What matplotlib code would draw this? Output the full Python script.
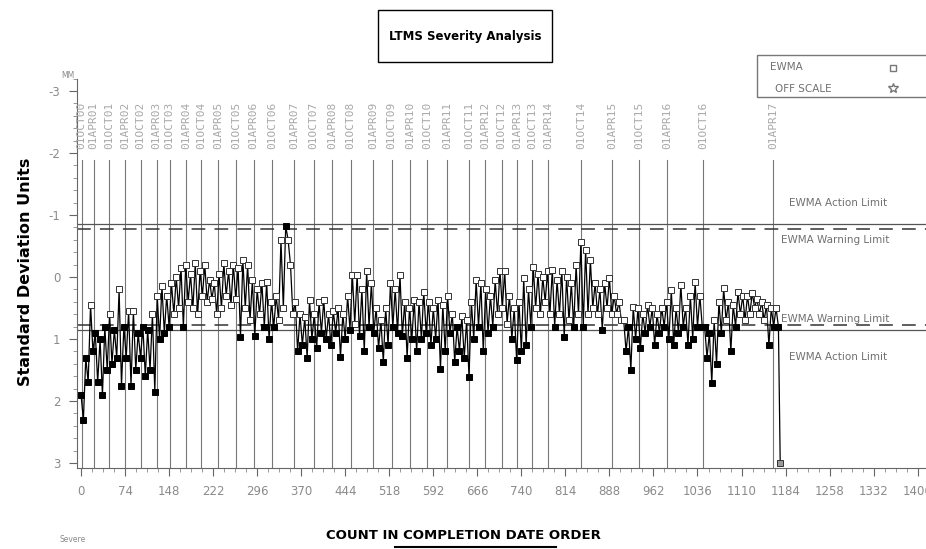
import matplotlib
matplotlib.use("Agg")
import matplotlib.pyplot as plt
from matplotlib.patches import Rectangle
from matplotlib.lines import Line2D
import numpy as np

NARROW = ['Liberation Sans Narrow', 'DejaVu Sans']
GREY = '#8a8a8a'

# EWMA values, one upper / lower pair per 8 tests
ewma_hi = [1.9, 1.3, 0.45, 0.9, 1.0, 0.8, 0.6, 0.85, 0.2, 0.8,
           0.55, 0.55, 0.9, 0.8, 0.85, 0.6, 0.3, 0.15, 0.3, 0.1,
           0.0, -0.15, -0.2, -0.05, -0.22, -0.1, -0.2, 0.05, 0.1, -0.05,
           -0.22, -0.1, -0.2, -0.15, -0.27, -0.2, 0.05, 0.2, 0.1, 0.08,
           0.4, 0.3, -0.6, -0.82, -0.2, 0.4, 0.6, 0.65, 0.37, 0.6,
           0.4, 0.37, 0.6, 0.55, 0.5, 0.6, 0.3, -0.04, -0.04, 0.2,
           -0.1, 0.1, 0.5, 0.7, 0.5, 0.1, 0.2, -0.04, 0.4, 0.5,
           0.37, 0.4, 0.24, 0.4, 0.5, 0.37, 0.45, 0.3, 0.6, 0.8,
           0.63, 0.7, 0.4, 0.05, 0.1, 0.2, 0.3, 0.05, -0.1, -0.1,
           0.3, 0.5, 0.4, 0.02, 0.2, -0.17, -0.05, 0.0, -0.1, -0.12,
           0.05, -0.1, 0.0, 0.1, -0.2, -0.57, -0.44, -0.27, 0.1, 0.2,
           0.1, 0.02, 0.3, 0.4, 0.7, 0.8, 0.48, 0.5, 0.6, 0.45,
           0.5, 0.6, 0.5, 0.4, 0.21, 0.5, 0.12, 0.5, 0.3, 0.08,
           0.3, 0.8, 0.9, 0.7, 0.4, 0.18, 0.4, 0.45, 0.24, 0.3,
           0.3, 0.25, 0.35, 0.4, 0.45, 0.5, 0.5]
ewma_lo = [2.3, 1.7, 1.2, 1.7, 1.9, 1.5, 1.4, 1.3, 1.75, 1.3,
           1.75, 1.5, 1.3, 1.6, 1.5, 1.85, 1.0, 0.9, 0.8, 0.6,
           0.5, 0.8, 0.4, 0.5, 0.6, 0.3, 0.4, 0.35, 0.6, 0.5,
           0.3, 0.45, 0.35, 0.96, 0.5, 0.7, 0.95, 0.6, 0.8, 1.0,
           0.8, 0.7, 0.5, -0.6, 0.6, 1.2, 1.1, 1.3, 1.0, 1.15,
           0.9, 1.0, 1.1, 0.9, 1.29, 1.0, 0.85, 0.75, 0.95, 1.2,
           0.8, 0.9, 1.15, 1.37, 1.1, 0.8, 0.9, 0.95, 1.3, 1.0,
           1.2, 1.0, 0.9, 1.1, 1.0, 1.49, 1.2, 0.9, 1.37, 1.2,
           1.3, 1.61, 1.0, 0.8, 1.2, 0.9, 0.8, 0.6, 0.5, 0.75,
           1.0, 1.34, 1.2, 1.1, 0.8, 0.5, 0.6, 0.4, 0.6, 0.8,
           0.6, 0.96, 0.7, 0.8, 0.6, 0.8, 0.6, 0.5, 0.6, 0.85,
           0.5, 0.6, 0.6, 0.7, 1.2, 1.5, 1.0, 1.15, 0.9, 0.8,
           1.1, 0.9, 0.8, 1.0, 1.1, 0.9, 0.8, 1.1, 1.0, 0.8,
           0.8, 1.3, 1.71, 1.4, 0.9, 0.7, 1.2, 0.8, 0.6, 0.7,
           0.6, 0.5, 0.6, 0.7, 1.1, 0.8, 0.8]
bin_width = 8
off_scale_x = 1175
off_scale_y = 3.0

date_labels = ['01OCT00', '01APR01', '01OCT01', '01APR02', '01OCT02', '01APR03',
               '01OCT03', '01APR04', '01OCT04', '01APR05', '01OCT05', '01APR06',
               '01OCT06', '01APR07', '01OCT07', '01APR08', '01OCT08', '01APR09',
               '01OCT09', '01APR10', '01OCT10', '01APR11', '01OCT11', '01APR12',
               '01OCT12', '01APR13', '01OCT13', '01APR14', '01OCT14', '01APR15',
               '01OCT15', '01APR16', '01OCT16', '01APR17']
date_counts = [1, 21, 47, 74, 100, 127, 149, 176, 202, 231, 261, 290, 321, 358,
               391, 422, 453, 491, 522, 553, 582, 615, 652, 679, 707, 733, 758,
               785, 840, 892, 938, 985, 1045, 1163]

action_limit = 0.86
warning_limit = 0.77
x_ticks = list(range(0, 1407, 74))

# build the series
xs, ys = [], []
for i, (h, l) in enumerate(zip(ewma_hi, ewma_lo)):
    xs += [i * bin_width, i * bin_width + bin_width / 2]
    ys += [h, l]
xs = np.array(xs)
ys = np.array(ys)

fig = plt.figure(figsize=(9.26, 5.49), dpi=100)
ax = fig.add_axes([0.083, 0.1475, 0.917, 0.716])

for c, lab in zip(date_counts, date_labels):
    ax.plot([c, c], [-1.88, 3.2], color='#777777', lw=0.8, zorder=1)
    ax.text(c, -2.06, lab, rotation=90, ha='center', va='bottom',
            fontsize=8, color='#a8a8a8', family='DejaVu Sans Mono')

ax.axhline(-action_limit, color='#555555', lw=0.9, zorder=1)
ax.axhline(action_limit, color='#555555', lw=0.9, zorder=1)
ax.axhline(-warning_limit, color='#333333', lw=1.1, ls=(0, (9, 6)), zorder=1)
ax.axhline(warning_limit, color='#333333', lw=1.1, ls=(0, (9, 6)), zorder=1)

ax.plot(np.append(xs, off_scale_x), np.append(ys, off_scale_y),
        color='black', lw=0.9, zorder=3)
beyond = np.abs(ys) > warning_limit
ax.plot(xs[~beyond], ys[~beyond], ls='none', marker='s', ms=4,
        mfc='white', mec='#333333', mew=0.7, zorder=4)
ax.plot(xs[beyond], ys[beyond], ls='none', marker='s', ms=4,
        mfc='black', mec='black', mew=0.7, zorder=4)
ax.plot([off_scale_x], [off_scale_y], ls='none', marker='s', ms=4,
        mfc='#999999', mec='#333333', mew=0.7, zorder=4)

lim_kw = dict(fontsize=7.5, color='#707070', family=NARROW)
ax.text(1190, -1.14, 'EWMA Action Limit', **lim_kw)
ax.text(1176, -0.55, 'EWMA Warning Limit', **lim_kw)
ax.text(1176, 0.72, 'EWMA Warning Limit', **lim_kw)
ax.text(1190, 1.33, 'EWMA Action Limit', **lim_kw)

ax.set_xlim(-7, 1420)
ax.set_ylim(3.08, -3.26)
ax.set_xticks(x_ticks)
ax.set_xticks(np.arange(0, 1420, 18.5), minor=True)
ax.set_yticks([-3, -2, -1, 0, 1, 2, 3])
ax.set_yticks(np.arange(-3.2, 3.1, 0.2), minor=True)
ax.set_yticklabels(['-3', '-2', '-1', '0', '1', '2', '3'])
for lab in ax.get_xticklabels() + ax.get_yticklabels():
    lab.set_family(NARROW)
    lab.set_fontsize(8.5)
    lab.set_color('#8a8a8a')
ax.tick_params(which='major', length=6, color='#666666', pad=6)
ax.tick_params(which='minor', length=3, color='#888888')
for side in ['top', 'right']:
    ax.spines[side].set_visible(False)
for side in ['left', 'bottom']:
    ax.spines[side].set_color('#666666')
ax.spines['left'].set_bounds(3.08, -3.2)

ax.set_xlabel('COUNT IN COMPLETION DATE ORDER', fontsize=9.5, fontweight='bold',
              family=NARROW)
ax.xaxis.set_label_coords(0.455, -0.155)
ax.set_ylabel('Standard Deviation Units', fontsize=11.5, fontweight='bold')
ax.yaxis.set_label_coords(-0.052, 0.5)

# title box
fig.add_artist(Rectangle((0.408, 0.887), 0.188, 0.095, transform=fig.transFigure,
                         fc='white', ec='black', lw=1))
fig.text(0.502, 0.934, 'LTMS Severity Analysis', ha='center', va='center',
         fontsize=8.5, fontweight='bold', family=NARROW)

# legend box
fig.add_artist(Rectangle((0.8175, 0.823), 0.19, 0.077, transform=fig.transFigure,
                         fc='none', ec='#777777', lw=1))
fig.text(0.832, 0.872, 'EWMA', fontsize=7.5, color='#707070', family=NARROW)
fig.text(0.837, 0.832, 'OFF SCALE', fontsize=7.5, color='#707070', family=NARROW)
fig.add_artist(Line2D([0.964], [0.877], marker='s', ms=5, mfc='white',
                      mec='#777777', transform=fig.transFigure))
fig.add_artist(Line2D([0.964], [0.840], marker='*', ms=7, mfc='white',
                      mec='#777777', transform=fig.transFigure))

fig.text(0.066, 0.858, 'MM', fontsize=5.5, color=GREY, family=NARROW)
fig.text(0.064, 0.012, 'Severe', fontsize=5.5, color=GREY, family=NARROW)
fig.add_artist(Line2D([0.427, 0.6], [0.003, 0.003], color='black', lw=1.5,
                      transform=fig.transFigure))

fig.savefig('out.png', dpi=100)
